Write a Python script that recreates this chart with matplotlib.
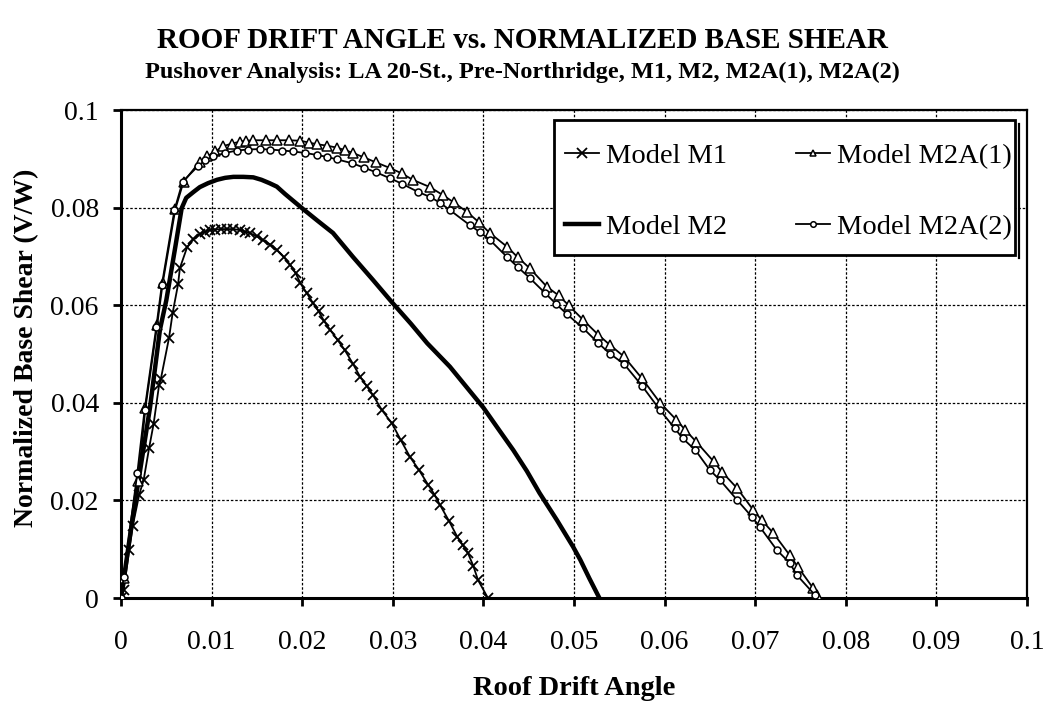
import matplotlib
matplotlib.use("Agg")
import matplotlib.pyplot as plt
from matplotlib.lines import Line2D
from matplotlib.patches import Rectangle

plt.rcParams['font.family'] = ['Liberation Serif', 'DejaVu Serif']

# Model M1 pushover curve (roof drift angle, V/W)
m1_drift = [0.0, 0.0003, 0.0009, 0.0013, 0.0020, 0.0025, 0.0031, 0.0036, 0.0042, 0.0044,
            0.0053, 0.0057, 0.0063, 0.0065, 0.0073, 0.0080, 0.0087, 0.0093, 0.0098, 0.0104,
            0.0110, 0.0117, 0.0124, 0.0131, 0.0137, 0.0142, 0.0150, 0.0157, 0.0165, 0.0172,
            0.0180, 0.0187, 0.0193, 0.0198, 0.0205, 0.0212, 0.0218, 0.0224, 0.0231, 0.0239,
            0.0247, 0.0256, 0.0264, 0.0271, 0.0278, 0.0288, 0.0299, 0.0309, 0.0319, 0.0329,
            0.0339, 0.0346, 0.0352, 0.0362, 0.0371, 0.0377, 0.0383, 0.0389, 0.0394, 0.0405]
m1_shear = [0.0, 0.0016, 0.0098, 0.0148, 0.0211, 0.0242, 0.0307, 0.0357, 0.0436, 0.0449,
            0.0533, 0.0584, 0.0643, 0.0676, 0.0719, 0.0735, 0.0746, 0.0751, 0.0754, 0.0755,
            0.0756, 0.0756, 0.0756, 0.0754, 0.0751, 0.0748, 0.0741, 0.0733, 0.0724, 0.0713,
            0.0698, 0.0682, 0.0665, 0.0645, 0.0625, 0.0604, 0.0588, 0.0568, 0.0549, 0.0529,
            0.0508, 0.0480, 0.0453, 0.0435, 0.0416, 0.0385, 0.0358, 0.0323, 0.0289, 0.0262,
            0.0232, 0.0212, 0.0191, 0.0158, 0.0126, 0.0109, 0.0092, 0.0065, 0.0037, 0.0]

# Model M2 pushover curve
m2_drift = [0.0, 0.0013, 0.0032, 0.0043, 0.0050, 0.0060, 0.0067, 0.0072, 0.0080, 0.0087,
            0.0096, 0.0106, 0.0115, 0.0124, 0.0135, 0.0146, 0.0155, 0.0164, 0.0172, 0.0181,
            0.0190, 0.0201, 0.0217, 0.0234, 0.0256, 0.0278, 0.0300, 0.0320, 0.0338, 0.0363,
            0.0389, 0.0400, 0.0417, 0.0433, 0.0448, 0.0462, 0.0481, 0.0499, 0.0507, 0.0517,
            0.0528]
m2_shear = [0.0, 0.0166, 0.0390, 0.0550, 0.0610, 0.0720, 0.0799, 0.0820, 0.0832, 0.0842,
            0.0850, 0.0857, 0.0861, 0.0863, 0.0863, 0.0862, 0.0857, 0.0850, 0.0843, 0.0828,
            0.0814, 0.0797, 0.0773, 0.0748, 0.0699, 0.0652, 0.0604, 0.0562, 0.0522, 0.0474,
            0.0415, 0.0390, 0.0345, 0.0303, 0.0260, 0.0215, 0.0160, 0.0105, 0.0078, 0.0040,
            0.0]

# Model M2A(1) pushover curve
m2a1_drift = [0.0, 0.0003, 0.0019, 0.0027, 0.0040, 0.0046, 0.0060, 0.0069, 0.0087, 0.0095,
              0.0104, 0.0113, 0.0122, 0.0131, 0.0138, 0.0146, 0.0160, 0.0172, 0.0185, 0.0198,
              0.0208, 0.0216, 0.0227, 0.0238, 0.0247, 0.0256, 0.0268, 0.0281, 0.0297, 0.0310,
              0.0322, 0.0341, 0.0355, 0.0367, 0.0382, 0.0395, 0.0407, 0.0426, 0.0438, 0.0451,
              0.0470, 0.0483, 0.0494, 0.0510, 0.0527, 0.0540, 0.0555, 0.0575, 0.0595, 0.0613,
              0.0623, 0.0635, 0.0654, 0.0663, 0.0680, 0.0698, 0.0707, 0.0720, 0.0738, 0.0747,
              0.0764, 0.0768]
m2a1_shear = [0.0, 0.0040, 0.0240, 0.0390, 0.0560, 0.0645, 0.0797, 0.0853, 0.0894, 0.0905,
              0.0915, 0.0926, 0.0931, 0.0935, 0.0937, 0.0938, 0.0938, 0.0938, 0.0938, 0.0937,
              0.0933, 0.0930, 0.0927, 0.0923, 0.0918, 0.0912, 0.0903, 0.0893, 0.0881, 0.0870,
              0.0857, 0.0842, 0.0826, 0.0811, 0.0791, 0.0770, 0.0748, 0.0720, 0.0698, 0.0676,
              0.0638, 0.0620, 0.0600, 0.0570, 0.0539, 0.0518, 0.0495, 0.0450, 0.0400, 0.0365,
              0.0344, 0.0320, 0.0280, 0.0259, 0.0225, 0.0180, 0.0160, 0.0133, 0.0088, 0.0064,
              0.0020, 0.0006]

# Model M2A(2) pushover curve
m2a2_drift = [0.0, 0.0003, 0.0018, 0.0026, 0.0039, 0.0045, 0.0059, 0.0068, 0.0085, 0.0093,
              0.0102, 0.0115, 0.0128, 0.0140, 0.0153, 0.0165, 0.0178, 0.0190, 0.0203, 0.0216,
              0.0227, 0.0238, 0.0255, 0.0268, 0.0282, 0.0297, 0.0310, 0.0328, 0.0341, 0.0352,
              0.0363, 0.0385, 0.0396, 0.0407, 0.0426, 0.0438, 0.0451, 0.0468, 0.0480, 0.0492,
              0.0510, 0.0527, 0.0540, 0.0555, 0.0575, 0.0595, 0.0611, 0.0620, 0.0634, 0.0650,
              0.0661, 0.0680, 0.0696, 0.0705, 0.0724, 0.0738, 0.0746, 0.0766]
m2a2_shear = [0.0, 0.0044, 0.0256, 0.0385, 0.0556, 0.0641, 0.0795, 0.0853, 0.0885, 0.0897,
              0.0905, 0.0912, 0.0917, 0.0919, 0.0920, 0.0919, 0.0917, 0.0915, 0.0912, 0.0908,
              0.0904, 0.0899, 0.0891, 0.0882, 0.0872, 0.0860, 0.0849, 0.0832, 0.0822, 0.0810,
              0.0795, 0.0764, 0.0750, 0.0734, 0.0699, 0.0678, 0.0656, 0.0625, 0.0603, 0.0582,
              0.0553, 0.0522, 0.0500, 0.0480, 0.0435, 0.0385, 0.0348, 0.0327, 0.0303, 0.0262,
              0.0242, 0.0201, 0.0167, 0.0146, 0.0098, 0.0072, 0.0047, 0.0006]

x_ticks = [0, 0.01, 0.02, 0.03, 0.04, 0.05, 0.06, 0.07, 0.08, 0.09, 0.1]
x_tick_labels = ['0', '0.01', '0.02', '0.03', '0.04', '0.05', '0.06', '0.07', '0.08', '0.09', '0.1']
y_ticks = [0, 0.02, 0.04, 0.06, 0.08, 0.1]
y_tick_labels = ['0', '0.02', '0.04', '0.06', '0.08', '0.1']

W, H = 1044, 707
fig = plt.figure(figsize=(W / 100, H / 100), dpi=100)
ax = fig.add_axes([121 / W, 1 - 598 / H, (1027 - 121) / W, (598 - 110) / H])

ax.plot(m1_drift, m1_shear, color='black', lw=1.3, marker='x', ms=7, mew=1.3, zorder=3)
ax.plot(m2_drift, m2_shear, color='black', lw=3.2, zorder=3)
ax.plot(m2a1_drift, m2a1_shear, color='black', lw=1.3, marker='^', ms=7, mew=1.1,
        mfc='white', zorder=4)
ax.plot(m2a2_drift, m2a2_shear, color='black', lw=1.3, marker='o', ms=5, mew=1.1,
        mfc='white', zorder=4)

ax.set_xlim(0, 0.1)
ax.set_ylim(0, 0.1)
ax.set_xticks(x_ticks)
ax.set_xticklabels(x_tick_labels)
ax.set_yticks(y_ticks)
ax.set_yticklabels(y_tick_labels)
ax.tick_params(axis='both', direction='out', length=6, width=2, labelsize=20, colors='black')
ax.tick_params(axis='x', pad=17)
ax.tick_params(axis='y', pad=10)
ax.grid(True, color='black', linestyle=(0, (2, 1.5)), linewidth=0.9)
ax.set_axisbelow(True)
for side in ['left', 'bottom']:
    ax.spines[side].set_linewidth(2.2)
for side in ['top', 'right']:
    ax.spines[side].set_linewidth(1.6)

ax.set_xlabel('Roof Drift Angle', fontsize=20.5, fontweight='bold')
ax.xaxis.label.set_va('baseline')
ax.xaxis.set_label_coords(574 / W, 1 - 695 / H, transform=fig.transFigure)
ax.set_ylabel('Normalized Base Shear (V/W)', fontsize=20, fontweight='bold')
ax.yaxis.label.set_va('center')
ax.yaxis.set_label_coords(27 / W, 1 - 348 / H, transform=fig.transFigure)

fig.text(0.5, 1 - 40 / H, 'ROOF DRIFT ANGLE vs. NORMALIZED BASE SHEAR', ha='center',
         va='center', fontsize=21, fontweight='bold')
fig.text(0.5, 1 - 72 / H, 'Pushover Analysis: LA 20-St., Pre-Northridge, M1, M2, M2A(1), M2A(2)',
         ha='center', va='center', fontsize=17.5, fontweight='bold')

# legend: two columns, drawn without its own frame, boxed below
handles = [
    Line2D([], [], color='black', lw=1.3, marker='x', ms=7, mew=1.3),
    Line2D([], [], color='black', lw=3.2),
    Line2D([], [], color='black', lw=1.3, marker='^', ms=5, mew=1.1, mfc='white'),
    Line2D([], [], color='black', lw=1.3, marker='o', ms=4, mew=1.1, mfc='white'),
]
labels = ['Model M1', 'Model M2', 'Model M2A(1)', 'Model M2A(2)']
leg = fig.legend(handles, labels, ncol=2, loc='upper left',
                 bbox_to_anchor=(565 / W, 1 - 143 / H), bbox_transform=fig.transFigure,
                 fontsize=20.5, frameon=False, borderpad=0.0, borderaxespad=0.0,
                 handlelength=1.2, handletextpad=0.25, columnspacing=2.4, labelspacing=1.6)
leg.set_zorder(10)

frame = Rectangle((554 / W, 1 - 255 / H), (1015 - 554) / W, (255 - 120) / H,
                  transform=fig.transFigure, facecolor='white', edgecolor='black',
                  linewidth=2.0, zorder=9)
fig.add_artist(frame)
fig.add_artist(Line2D([1019 / W, 1019 / W], [1 - 124 / H, 1 - 258 / H],
                      transform=fig.transFigure, color='black', lw=1.6, zorder=9))

fig.savefig('out.png', dpi=100)
